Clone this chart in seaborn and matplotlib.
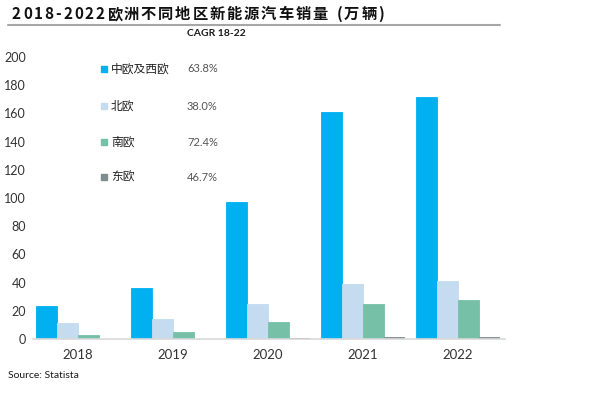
import numpy as np
import pandas as pd
import matplotlib
matplotlib.use("Agg")
import matplotlib.pyplot as plt
import seaborn as sns
from matplotlib.lines import Line2D

# data (万辆)
years = ["2018", "2019", "2020", "2021", "2022"]
regions = ["中欧及西欧", "北欧", "南欧", "东欧"]
central_west = [23.4, 36.5, 97.0, 161.0, 172.0]
north = [11.3, 13.9, 25.0, 39.2, 41.5]
south = [2.8, 5.0, 12.4, 24.6, 27.5]
east = [0.2, 0.3, 0.8, 1.3, 1.3]
cagr = ["63.8%", "38.0%", "72.4%", "46.7%"]
colors = ["#00B0F0", "#C5DBF0", "#76C0A8", "#7F8C8D"]
title = "2018-2022欧洲不同地区新能源汽车销量 (万辆)"

df = pd.DataFrame({
    "year": years * 4,
    "region": np.repeat(regions, len(years)),
    "value": central_west + north + south + east,
})

sns.set_theme(style="white")
plt.rcParams["font.family"] = ["Lato", "Noto Sans CJK SC", "DejaVu Sans"]

fig = plt.figure(figsize=(6.0, 3.94), dpi=100)
ax = fig.add_axes([0.055, 0.1396, 0.787, 0.7155])

sns.barplot(data=df, x="year", y="value", hue="region", palette=colors,
            width=0.88, gap=0, saturation=1, legend=False, ax=ax)
# close the hairline gaps between neighbouring bars
for p in ax.patches:
    p.set_edgecolor(p.get_facecolor())
    p.set_linewidth(0.6)

ax.set_ylim(0, 200)
ax.set_xlim(-0.47, 4.5)
ax.set_yticks(range(0, 201, 20))
ax.set_xlabel("")
ax.set_ylabel("")
for s in ["top", "right", "left"]:
    ax.spines[s].set_visible(False)
ax.spines["bottom"].set_color("#D9D9D9")
ax.spines["bottom"].set_linewidth(1.2)
ax.tick_params(axis="y", length=0, pad=5, labelsize=9, labelcolor="#333333")
ax.tick_params(axis="x", length=0, pad=7, labelsize=9.5, labelcolor="#333333")

# title, drawn char by char for the wide letter spacing
renderer = fig.canvas.get_renderer()
x_px = 12
for ch in title:
    t = fig.text(x_px / 600, 1 - 14 / 394, ch, fontsize=11, fontweight="bold",
                 family=["Noto Sans CJK SC", "DejaVu Sans"], color="#111111",
                 va="center")
    w = t.get_window_extent(renderer).width
    x_px += (w if ch != " " else 5) + 1.9
fig.add_artist(Line2D([0.013, 0.833], [0.937, 0.937], color="#A6A6A6", lw=1.5))

# custom legend with CAGR
fig.text(187 / 600, 1 - 33 / 394, "CAGR 18-22", fontsize=7.5, fontweight="bold",
         color="#1a1a1a", va="center")
rows_y = [69, 106, 142, 177]
for reg, pct, col, yy in zip(regions, cagr, colors, rows_y):
    fy = 1 - yy / 394
    fig.patches.append(plt.Rectangle((101 / 600, fy - 3 / 394), 6 / 600, 6 / 394,
                                     color=col, transform=fig.transFigure, figure=fig))
    fig.text(111 / 600, fy, reg, fontsize=8.5, color="#222222", va="center")
    fig.text(187 / 600, fy, pct, fontsize=8, color="#555555", va="center")

fig.text(8 / 600, 1 - 375 / 394, "Source: Statista", fontsize=7.5,
         color="#1a1a1a", va="center")

fig.savefig("out.png", dpi=100)
